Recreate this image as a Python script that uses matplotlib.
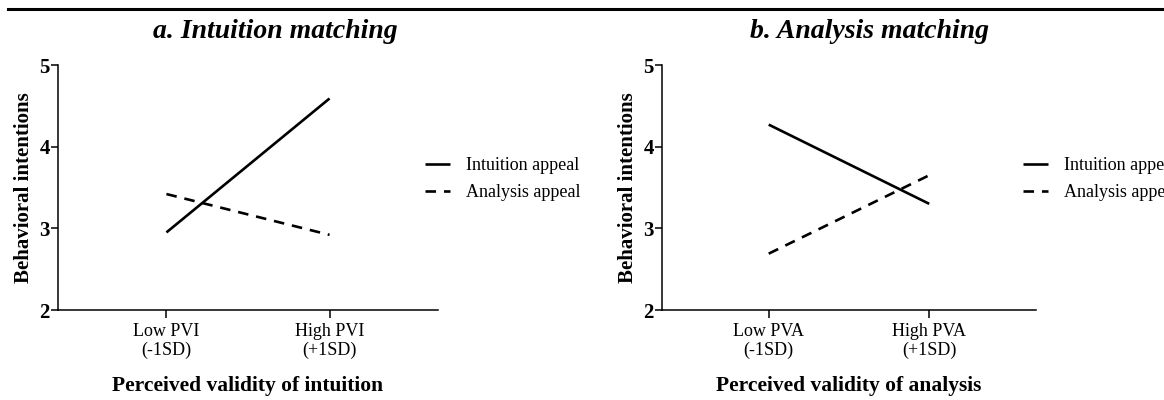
import matplotlib
matplotlib.use("Agg")

import matplotlib.pyplot as plt
from matplotlib.lines import Line2D

# simple slopes: behavioral intentions at low / high perceived validity
appeals = ["Intuition appeal", "Analysis appeal"]

ticks_a = ["Low PVI\n(-1SD)", "High PVI\n(+1SD)"]
intuition_a = [2.95, 4.59]
analysis_a = [3.42, 2.92]

ticks_b = ["Low PVA\n(-1SD)", "High PVA\n(+1SD)"]
intuition_b = [4.27, 3.30]
analysis_b = [2.69, 3.65]

plt.rcParams['font.family'] = ['Liberation Serif', 'DejaVu Serif']

fig = plt.figure(figsize=(11.64, 4), dpi=100)

# thin rule across the top
fig.add_artist(Line2D([0.007, 1.0], [0.977, 0.977], color='black', lw=2.2))


def panel(rect, ticks, intu, anal, title, title_x, xlabel):
    ax = fig.add_axes(rect)
    ax.plot([0, 1], intu, color='black', lw=1.9, solid_capstyle='butt', label=appeals[0])
    ax.plot([0, 1], anal, color='black', lw=1.9, ls=(0, (4, 3)), label=appeals[1])
    ax.set_xlim(-0.665, 1.665)
    ax.set_ylim(2, 5)
    ax.set_yticks([2, 3, 4, 5])
    ax.set_xticks([0, 1])
    ax.set_xticklabels(ticks, fontsize=13, linespacing=1.2)
    for lab in ax.get_yticklabels():
        lab.set_fontweight('bold')
        lab.set_fontsize(15)
    ax.tick_params(axis='y', length=5, width=1.1, pad=1)
    ax.tick_params(axis='x', length=6, width=1.1, pad=3)
    ax.spines['top'].set_visible(False)
    ax.spines['right'].set_visible(False)
    ax.spines['left'].set_linewidth(1.1)
    ax.spines['bottom'].set_linewidth(1.1)
    ax.set_xlabel(xlabel, fontsize=15.5, fontweight='bold', labelpad=12)
    ax.set_ylabel("Behavioral intentions", fontsize=15, fontweight='bold', labelpad=4)
    ax.legend(loc='center left', bbox_to_anchor=(0.965, 0.535), frameon=False,
              fontsize=13, handlelength=1.4, handletextpad=0.9,
              labelspacing=0.55, borderpad=0, borderaxespad=0)
    fig.text(title_x, 0.92, title, ha='center', va='center', fontsize=20,
             fontweight='bold', fontstyle='italic')
    return ax


panel([0.0498, 0.225, 0.3265, 0.6125], ticks_a, intuition_a, analysis_a,
      "a. Intuition matching", 275 / 1164, "Perceived validity of intuition")
panel([0.5687, 0.225, 0.3213, 0.6125], ticks_b, intuition_b, analysis_b,
      "b. Analysis matching", 870 / 1164, "Perceived validity of analysis")

fig.savefig("out.png", dpi=100)
